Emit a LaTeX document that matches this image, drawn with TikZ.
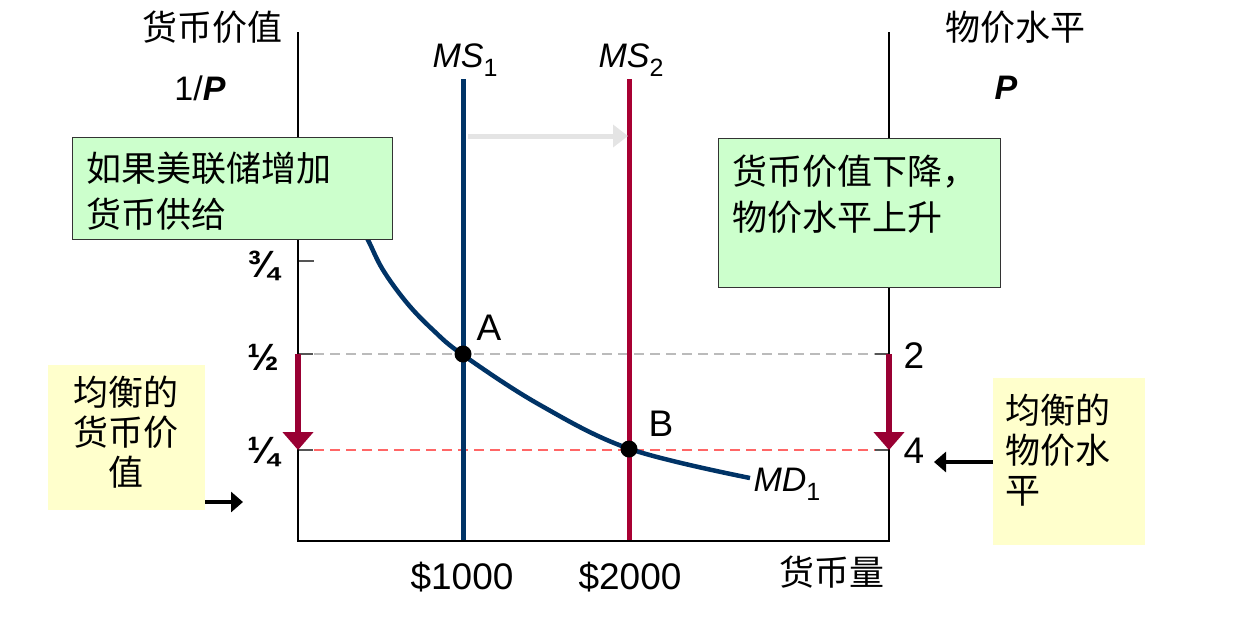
\documentclass[tikz,border=0pt]{standalone}
\usepackage{fontspec}
\setmainfont{Liberation Sans}
\newfontfamily\cjk{Noto Sans CJK SC}
\usetikzlibrary{arrows.meta}
\definecolor{navy}{HTML}{003366}
\definecolor{crim}{HTML}{A80032}
\definecolor{maroonred}{HTML}{990033}
\definecolor{boxgreen}{HTML}{CCFFCC}
\definecolor{boxyellow}{HTML}{FFFFCC}
\definecolor{shiftgray}{HTML}{E4E4E4}
\definecolor{dashgray}{HTML}{BBBBBB}
\definecolor{dashred}{HTML}{FF6666}
\definecolor{tickgray}{HTML}{555555}
\tikzset{
  lat/.style={font=\fontsize{34}{40}\selectfont, inner sep=0pt},
  num/.style={font=\fontsize{37}{40}\selectfont, inner sep=0pt},
  frac/.style={font=\bfseries\fontsize{38}{40}\selectfont, inner sep=0pt},
  zh/.style={font=\cjk\fontsize{35}{46}\selectfont, inner sep=0pt},
  zhy/.style={font=\cjk\fontsize{35}{40}\selectfont, inner sep=0pt},
  gbox/.style={draw=black!80, line width=1.2pt, fill=boxgreen, inner sep=0pt, anchor=north west},
  ybox/.style={fill=boxyellow, inner sep=0pt, anchor=north west},
  axisline/.style={black, line width=1.5pt},
  ticky/.style={tickgray, line width=1.5pt},
  dot/.style={circle, fill=black, inner sep=0pt, minimum size=17pt},
  redarrow/.style={maroonred, line width=6pt, -{Triangle[length=18pt,width=30pt]}},
  blackarrow/.style={black, line width=4pt, -{Triangle[length=12pt,width=20pt]}},
}
\begin{document}
\begin{tikzpicture}[x=1pt,y=-1pt]
\useasboundingbox (0,0) rectangle (1233,622);
% coordinates
\coordinate (O) at (298,541);
\coordinate (Ltop) at (298,32);
\coordinate (R) at (889,541);
\coordinate (Rtop) at (889,32);
\coordinate (Lhalf) at (298,354);
\coordinate (Lquar) at (298,450);
\coordinate (Rhalf) at (889,354);
\coordinate (Rquar) at (889,450);
\coordinate (Lthree) at (298,261);
\coordinate (ms1top) at (463,79);
\coordinate (ms1bot) at (463,541);
\coordinate (ms2top) at (629,79);
\coordinate (ms2bot) at (629,541);
\coordinate (shiftS) at (468,136);
\coordinate (shiftE) at (628,136);
% dashed guides
\draw[dashgray, line width=1.5pt, dash pattern=on 10pt off 6pt] (Lhalf) -- (Rhalf);
\draw[dashred, line width=1.5pt, dash pattern=on 10pt off 6pt] (Lquar) -- (Rquar);
% ticks
\draw[ticky] (Lthree) -- ++(16,0);
\draw[ticky] (Lhalf) -- ++(15,0);
\draw[ticky] (Lquar) -- ++(15,0);
\draw[ticky] (Rhalf) -- ++(-14,0);
\draw[ticky] (Rquar) -- ++(-14,0);
% money supply lines
\draw[navy, line width=5pt] (ms1top) -- (ms1bot);
\draw[crim, line width=5pt] (ms2top) -- (ms2bot);
% demand curve
\draw[navy, line width=4.5pt] plot[smooth, tension=0.6] coordinates
  {(356,218) (368,240) (383,270) (407,303) (433,330) (463,355) (540,405) (630,449) (750,478)};
% axes
\draw[axisline] (Ltop) -- (O) -- (R) -- (Rtop);
% shift arrow
\draw[shiftgray, line width=5pt, -{Triangle[length=15pt,width=22pt]}] (shiftS) -- (shiftE);
% boxes
\node[gbox, minimum width=320pt, minimum height=102pt] (box1) at (72,137) {};
\node[zh, anchor=west, align=left] (t1) at (86,191) {如果美联储增加\\货币供给};
\node[gbox, minimum width=282pt, minimum height=149pt] (box2) at (718,138) {};
\node[zh, anchor=west, align=left] (t2) at (732,194) {货币价值下降，\\物价水平上升};
\node[ybox, minimum width=157pt, minimum height=145pt] (ybox1) at (48,365) {};
\node[zhy, align=center] (t3) at (126,432) {均衡的\\货币价\\值};
\node[ybox, minimum width=152pt, minimum height=167pt] (ybox2) at (993,378) {};
\node[zhy, anchor=west, align=left] (t4) at (1005,450) {均衡的\\物价水\\平};
% arrows
\coordinate (la1) at (205,502);
\coordinate (la2) at (243,502);
\draw[blackarrow] (la1) -- (la2);
\coordinate (ra1) at (993,462);
\coordinate (ra2) at (934,462);
\draw[blackarrow] (ra1) -- (ra2);
\draw[redarrow] (Lhalf) -- (Lquar);
\draw[redarrow] (Rhalf) -- (Rquar);
% equilibrium points
\node[dot] (A) at (463,354) {};
\node[dot] (B) at (629,449) {};
% labels
\node[zh] (yl) at (212,27) {货币价值};
\node[lat] (invp) at (200,88) {1/\textbf{\textit{P}}};
\node[zh] (pl) at (1015,27) {物价水平};
\node[lat] (plab) at (1006,88) {\textbf{\textit{P}}};
\node[lat] (ms1) at (465,60) {\textit{MS}\raisebox{-9pt}{\fontsize{25}{25}\selectfont 1}};
\node[lat] (ms2) at (631,60) {\textit{MS}\raisebox{-9pt}{\fontsize{25}{25}\selectfont 2}};
\node[num] (lA) at (489,328) {A};
\node[num] (lB) at (661,424) {B};
\node[lat] (md) at (787,484) {\textit{MD}\raisebox{-9pt}{\fontsize{25}{25}\selectfont 1}};
\node[frac] (f34) at (263,266) {¾};
\node[frac] (f12) at (263,357) {½};
\node[frac] (f14) at (263,452) {¼};
\node[num] (r2) at (914,356) {2};
\node[num] (r4) at (914,451) {4};
\node[num] (m1) at (462,577) {\$1000};
\node[num] (m2) at (630,577) {\$2000};
\node[zh] (ql) at (832,572) {货币量};
\end{tikzpicture}
\end{document}
